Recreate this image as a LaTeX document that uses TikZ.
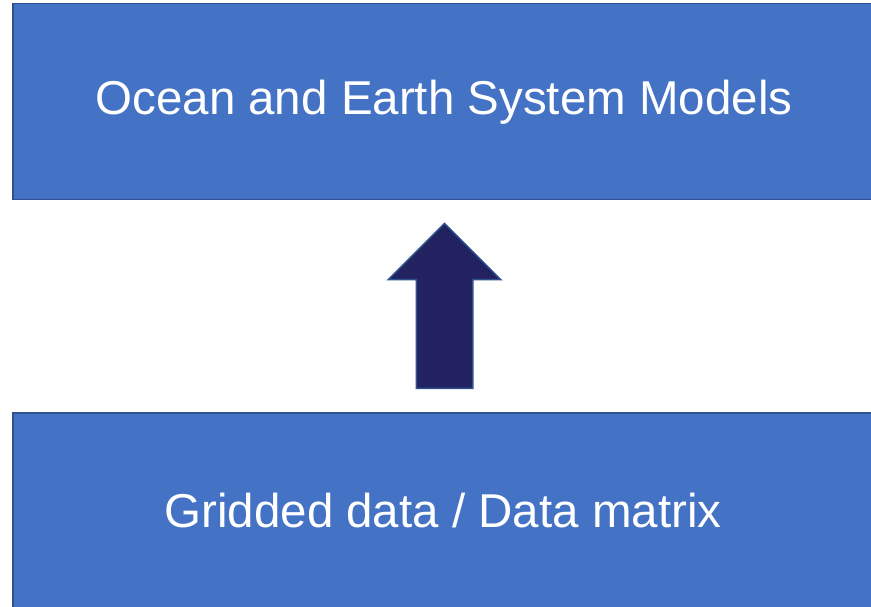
\documentclass[tikz,border=0pt]{standalone}
\usepackage{fontspec}
\setmainfont{Liberation Sans}
\usetikzlibrary{shapes.arrows}
\definecolor{boxblue}{HTML}{4472C4}
\definecolor{edgeblue}{HTML}{2F528F}
\definecolor{navy}{RGB}{35,34,96}
\begin{document}
\begin{tikzpicture}[x=1pt, y=-1pt]
\useasboundingbox (0,0) rectangle (871,607);
\node[draw=edgeblue, fill=boxblue, line width=1.5pt, minimum width=864pt, minimum height=196pt, anchor=north west, inner sep=0pt] (M) at (12,3) {};
\node[draw=edgeblue, fill=boxblue, line width=1.5pt, minimum width=864pt, minimum height=200pt, anchor=north west, inner sep=0pt] (G) at (12,412) {};
\node[text=white, font=\fontsize{47.5}{56}\selectfont] (Mtext) at (444,102) {Ocean and Earth System Models};
\node[text=white, font=\fontsize{47.5}{56}\selectfont] (Gtext) at (443,511) {Gridded data / Data matrix};
\node[single arrow, shape border rotate=90, draw=edgeblue, fill=navy, line width=1.5pt, minimum height=165pt, single arrow head extend=28pt, single arrow head indent=0pt, inner sep=27.5pt] (up) at (444.5,320) {};
\end{tikzpicture}
\end{document}
